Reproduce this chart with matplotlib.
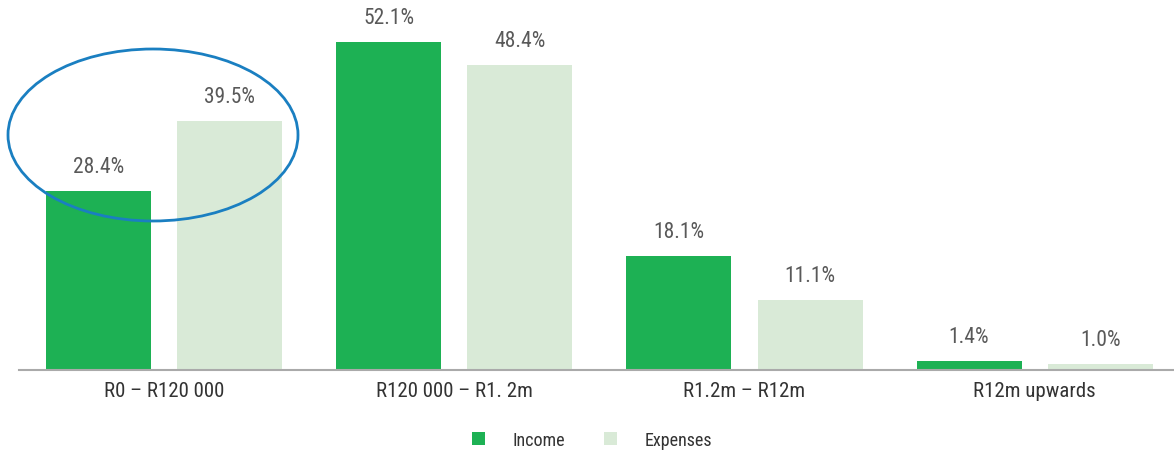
import matplotlib
matplotlib.use("Agg")
from matplotlib import pyplot as plt
from matplotlib import font_manager
from matplotlib.patches import Ellipse
import numpy as np

categories = ["R0 – R120 000", "R120 000 – R1. 2m", "R1.2m – R12m", "R12m upwards"]
income = [28.4, 52.1, 18.1, 1.4]
expenses = [39.5, 48.4, 11.1, 1.0]

# pick a narrow font if there is one
names = set(f.name for f in font_manager.fontManager.ttflist)
fam = 'DejaVu Sans'
for cand in ['Liberation Sans Narrow', 'DejaVu Sans Condensed', 'Roboto Condensed', 'Roboto']:
    if cand in names:
        fam = cand
        break
plt.rcParams['font.family'] = [fam, 'DejaVu Sans']
if fam == 'Roboto':
    plt.rcParams['font.stretch'] = 'condensed'

fig = plt.figure(figsize=(11.74, 4.52), dpi=100)
ax = fig.add_axes([19 / 1174, 81 / 452, 1 - 19 / 1174, 346.5 / 452])

x = np.arange(len(categories))
w = 0.362
off = 0.226
b1 = ax.bar(x - off, income, w, color='#1db154', label='Income')
b2 = ax.bar(x + off, expenses, w, color='#d9ead7', label='Expenses')

for bars, vals in [(b1, income), (b2, expenses)]:
    for b, v in zip(bars, vals):
        ax.annotate(f"{v:.1f}%", (b.get_x() + b.get_width() / 2, v),
                    xytext=(0, 10), textcoords='offset points',
                    ha='center', va='bottom', fontsize=15.5, color='#595959')

ax.set_xlim(-0.5, 3.48)
ax.set_ylim(0, 55)
ax.set_xticks(x)
ax.set_xticklabels(categories, fontsize=15, color='#333333')
ax.tick_params(axis='x', length=0, pad=8)
ax.set_yticks([])
for s in ['top', 'right', 'left']:
    ax.spines[s].set_visible(False)
ax.spines['bottom'].set_color('#aaaaaa')
ax.spines['bottom'].set_linewidth(1.5)

# highlight ellipse around the first group
ell = Ellipse((153 / 1174, 1 - 136 / 452), 290 / 1174, 172 / 452,
              transform=fig.transFigure, fill=False, edgecolor='#1a7fc1', linewidth=2)
fig.add_artist(ell)

leg = fig.legend(handles=[b1, b2], loc='center', bbox_to_anchor=(592 / 1174, 1 - 441 / 452),
                 ncol=2, frameon=False, fontsize=13, handlelength=0.7, handleheight=0.7,
                 columnspacing=2.2, handletextpad=1.5)
for t in leg.get_texts():
    t.set_color('#333333')

fig.savefig('out.png', dpi=100)
